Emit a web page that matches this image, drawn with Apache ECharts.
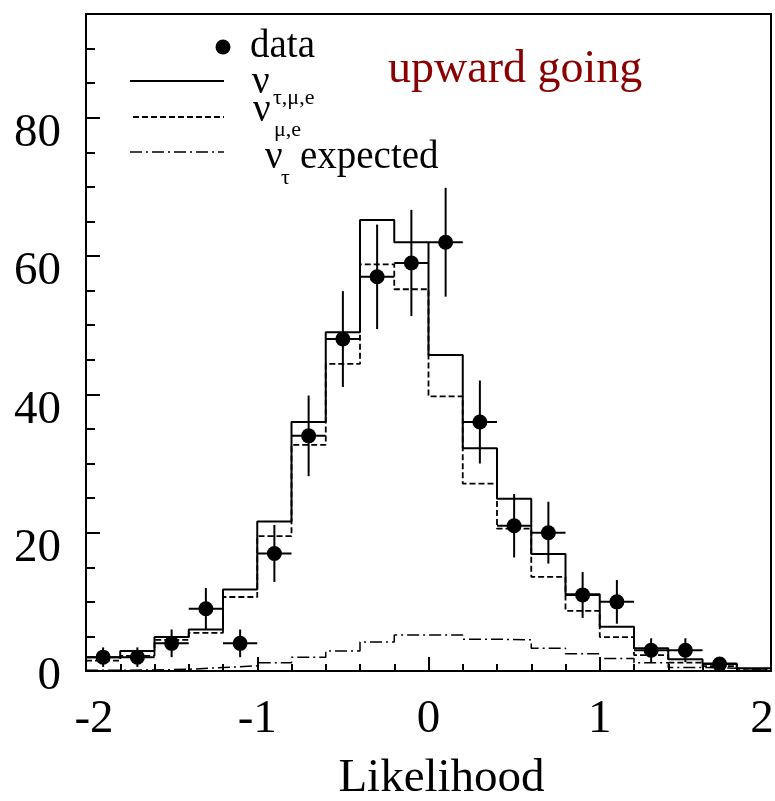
<!DOCTYPE html>
<html>
<head>
<meta charset="utf-8">
<script src="https://cdn.jsdelivr.net/npm/echarts@6/dist/echarts.min.js"></script>
<style>
  html, body { margin: 0; padding: 0; background: #fff; }
  #chart { width: 775px; height: 801px; }
</style>
</head>
<body>
<div id="chart"></div>
<script>
// Likelihood histogram: bins of width 0.2 from -2 to 2
const binEdges = [-2.0, -1.8, -1.6, -1.4, -1.2, -1.0, -0.8, -0.6, -0.4, -0.2, 0.0,
                  0.2, 0.4, 0.6, 0.8, 1.0, 1.2, 1.4, 1.6, 1.8, 2.0];

// observed events per bin (no entry in the last bin)
const dataCounts = [2, 2, 4, 9, 4, 17, 34, 48, 57, 59, 62, 36, 21, 20, 11, 10, 3, 3, 1, null];
// statistical error per bin
const dataErrors = [1.41, 1.41, 2.0, 3.0, 2.0, 4.12, 5.83, 6.93, 7.55, 7.68, 7.87, 6.0, 4.58, 4.47, 3.32, 3.16, 1.73, 1.73, 1.0, null];

// expectation with tau appearance (nu_tau + nu_mu,e)
const totalExpected = [2.0, 2.9, 4.9, 6.0, 11.8, 21.6, 36.0, 49.0, 65.2, 62.0, 45.7,
                       32.2, 24.9, 16.9, 11.1, 6.4, 3.3, 1.7, 1.1, 0.4];
// nu_mu,e only
const muEExpected = [1.5, 2.2, 4.5, 5.5, 10.7, 19.5, 32.7, 44.4, 58.8, 55.2, 39.7,
                     27.1, 20.6, 13.6, 8.7, 4.9, 2.3, 1.2, 0.7, 0.3];
// nu_tau expected contribution
const tauExpected = [0.1, 0.15, 0.25, 0.5, 0.75, 1.2, 2.0, 2.9, 4.2, 5.2, 5.2,
                     4.6, 4.5, 3.3, 2.5, 1.8, 1.2, 0.5, 0.4, 0.2];

const xTickValues = [-2, -1, 0, 1, 2];
const yTickValues = [0, 20, 40, 60, 80];

const FONT = '"Liberation Serif", "DejaVu Serif", serif';

// step outline of a histogram: one point per left edge plus the closing right edge
function histSteps(values) {
  const pts = values.map((v, i) => [binEdges[i], v]);
  pts.push([binEdges[binEdges.length - 1], values[values.length - 1]]);
  return pts;
}

const points = [];
dataCounts.forEach((v, i) => {
  if (v === null) return;
  const lo = binEdges[i], hi = binEdges[i + 1];
  points.push([(lo + hi) / 2, v, dataErrors[i], (hi - lo) / 2]);
});

const chart = echarts.init(document.getElementById('chart'), null, { renderer: 'canvas' });

const baseAxisLine = { show: true, onZero: false, lineStyle: { color: '#000', width: 2 } };

const option = {
  backgroundColor: '#fff',
  animation: false,
  grid: {
    left: 86, right: 4, top: 14, bottom: 130,
    outerBoundsMode: 'none', containLabel: false,
    show: true, borderColor: '#000', borderWidth: 2, backgroundColor: 'transparent'
  },
  xAxis: {
    type: 'value', min: -2, max: 2, interval: 1,
    axisLine: baseAxisLine,
    axisTick: { show: true, inside: true, length: 14, lineStyle: { color: '#000', width: 2 } },
    minorTick: { show: true, splitNumber: 5, length: 7, lineStyle: { color: '#000', width: 2 } },
    splitLine: { show: false },
    axisLabel: {
      margin: 25, color: '#000', fontFamily: FONT, fontSize: 47,
      formatter: v => {
        if (v === -2) return '{l|-2}';
        if (v === 2) return '{r|2}';
        return xTickValues.indexOf(v) >= 0 ? String(v) : '';
      },
      rich: {
        l: { fontFamily: FONT, fontSize: 47, color: '#000', padding: [0, 0, 0, 16] },
        r: { fontFamily: FONT, fontSize: 47, color: '#000', padding: [0, 18, 0, 0] }
      }
    },
    name: 'Likelihood', nameLocation: 'middle', nameGap: 84,
    nameTextStyle: { fontFamily: FONT, fontSize: 47, color: '#000', padding: [0, 0, 0, 26] }
  },
  yAxis: [
    {
      type: 'value', min: 0, max: 95, interval: 20,
      axisLine: baseAxisLine,
      axisTick: { show: true, inside: true, length: 14, lineStyle: { color: '#000', width: 2 } },
      splitLine: { show: false },
      axisLabel: {
        margin: 25, color: '#000', fontFamily: FONT, fontSize: 47,
        formatter: v => {
          if (yTickValues.indexOf(v) < 0) return '';
          return v === 0 ? '{z|0}' : '{n|' + v + '}';
        },
        rich: {
          n: { fontFamily: FONT, fontSize: 47, color: '#000', padding: [32, 0, 0, 0] },
          z: { fontFamily: FONT, fontSize: 47, color: '#000', padding: [12, 0, 0, 0] }
        }
      }
    },
    {
      // minor ticks every 5 units
      type: 'value', min: 0, max: 95, interval: 5, position: 'left',
      axisLine: { show: false, onZero: false },
      axisTick: { show: true, inside: true, length: 9, lineStyle: { color: '#000', width: 2 } },
      axisLabel: { show: false },
      splitLine: { show: false }
    }
  ],
  series: [
    {
      name: 'nu_tau,mu,e', type: 'line', step: 'end', data: histSteps(totalExpected),
      showSymbol: false, silent: true, z: 3,
      lineStyle: { color: '#000', width: 2, type: 'solid' }
    },
    {
      name: 'nu_mu,e', type: 'line', step: 'end', data: histSteps(muEExpected),
      showSymbol: false, silent: true, z: 2,
      lineStyle: { color: '#000', width: 1.8, type: [6, 3] }
    },
    {
      name: 'nu_tau expected', type: 'line', step: 'end', data: histSteps(tauExpected),
      showSymbol: false, silent: true, z: 2,
      lineStyle: { color: '#000', width: 1.5, type: [12, 4, 2, 4] }
    },
    {
      name: 'data errors', type: 'custom', data: points, z: 4,
      renderItem: (params, api) => {
        const x = api.value(0), y = api.value(1), ey = api.value(2), ex = api.value(3);
        const top = api.coord([x, y + ey]);
        const bot = api.coord([x, y - ey]);
        const lft = api.coord([x - ex, y]);
        const rgt = api.coord([x + ex, y]);
        const st = { stroke: '#000', lineWidth: 2 };
        return {
          type: 'group',
          children: [
            { type: 'line', shape: { x1: top[0], y1: top[1], x2: bot[0], y2: bot[1] }, style: st },
            { type: 'line', shape: { x1: lft[0], y1: lft[1], x2: rgt[0], y2: rgt[1] }, style: st }
          ]
        };
      }
    },
    {
      name: 'data', type: 'scatter', data: points.map(p => [p[0], p[1]]), z: 5,
      symbol: 'circle', symbolSize: 15, itemStyle: { color: '#000', opacity: 1 }
    }
  ],
  graphic: [
    // legend
    { type: 'circle', shape: { cx: 223, cy: 47, r: 7.5 }, style: { fill: '#000' }, z: 10 },
    { type: 'text', style: { text: 'data', x: 250, y: 47, font: '39px ' + FONT, fill: '#000', verticalAlign: 'middle' }, z: 10 },

    { type: 'line', shape: { x1: 130, y1: 81, x2: 224, y2: 81 }, style: { stroke: '#000', lineWidth: 2 }, z: 10 },
    { type: 'text', style: { text: 'ν', x: 252, y: 83, font: '39px ' + FONT, fill: '#000', verticalAlign: 'middle' }, z: 10 },
    { type: 'text', style: { text: 'τ,μ,e', x: 273, y: 98, font: '22px ' + FONT, fill: '#000', verticalAlign: 'middle' }, z: 10 },

    { type: 'line', shape: { x1: 133, y1: 117, x2: 224, y2: 117 }, style: { stroke: '#000', lineWidth: 1.8, lineDash: [6, 3] }, z: 10 },
    { type: 'text', style: { text: 'ν', x: 253, y: 111, font: '39px ' + FONT, fill: '#000', verticalAlign: 'middle' }, z: 10 },
    { type: 'text', style: { text: 'μ,e', x: 274, y: 130, font: '22px ' + FONT, fill: '#000', verticalAlign: 'middle' }, z: 10 },

    { type: 'line', shape: { x1: 130, y1: 152, x2: 224, y2: 152 }, style: { stroke: '#000', lineWidth: 1.5, lineDash: [12, 4, 2, 4] }, z: 10 },
    { type: 'text', style: { text: 'ν', x: 265, y: 158, font: '39px ' + FONT, fill: '#000', verticalAlign: 'middle' }, z: 10 },
    { type: 'text', style: { text: 'τ', x: 281, y: 178, font: '22px ' + FONT, fill: '#000', verticalAlign: 'middle' }, z: 10 },
    { type: 'text', style: { text: 'expected', x: 300, y: 158, font: '39px ' + FONT, fill: '#000', verticalAlign: 'middle' }, z: 10 },

    // sample label
    { type: 'text', style: { text: 'upward going', x: 388, y: 70, font: '46px ' + FONT, fill: '#8b0000', verticalAlign: 'middle' }, z: 10 }
  ]
};

chart.setOption(option);
</script>
</body>
</html>
